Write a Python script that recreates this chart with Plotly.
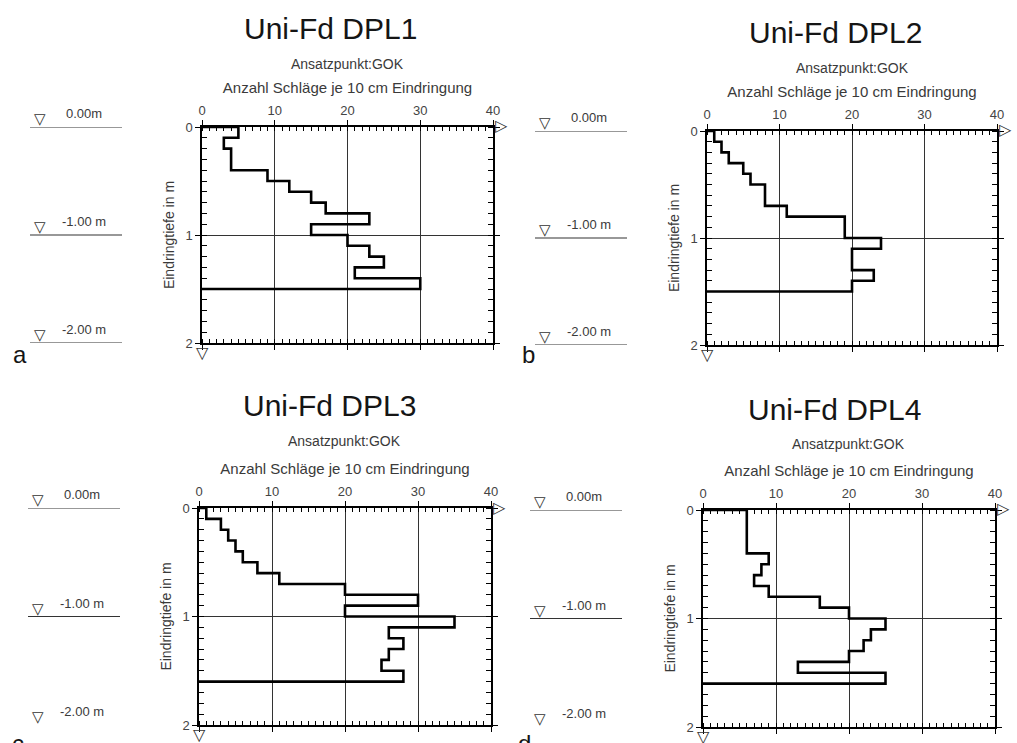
import plotly.graph_objects as go

W, H = 1017, 743

# ---------------- data ----------------
titles = ["Uni-Fd DPL1", "Uni-Fd DPL2", "Uni-Fd DPL3", "Uni-Fd DPL4"]
panel_letters = ["a", "b", "c", "d"]
subtitle = "Ansatzpunkt:GOK"
x_title = "Anzahl Schläge je 10 cm Eindringung"
y_title = "Eindringtiefe in m"
step_m = 0.1  # depth interval of each blow count

blows_dpl1 = [5, 3, 4, 4, 9, 12, 15, 17, 23, 15, 20, 23, 25, 21, 30]
blows_dpl2 = [1, 2, 3, 5, 6, 8, 8, 11, 19, 19, 24, 20, 20, 23, 20]
blows_dpl3 = [1, 3, 4, 5, 6, 8, 11, 20, 30, 20, 35, 26, 28, 26, 25, 28]
blows_dpl4 = [6, 6, 6, 6, 9, 8, 7, 9, 16, 20, 25, 23, 22, 20, 13, 25]
all_blows = [blows_dpl1, blows_dpl2, blows_dpl3, blows_dpl4]

level_values = [0, 1, 2]
level_labels = ["0.00m", "-1.00 m", "-2.00 m"]
level_lines = [[0, 1, 2], [0, 1, 2], [0, 1], [0, 1]]  # levels with a drawn line

x_ticks = [0, 10, 20, 30, 40]
y_ticks = [0, 1, 2]

# ---------------- layout geometry (pixels) ----------------
def px(x):
    return x / W

def py(y):
    return 1 - y / H

panels = [  # plot box: left, right, top, bottom
    (202, 493, 127, 343),
    (707, 997, 131, 345),
    (199, 491, 508, 725),
    (703, 995, 510, 727),
]
ruler_x = [(30, 122), (535, 627), (28, 120), (530, 622)]
title_pos = [(330, 29), (835, 32), (329, 406), (834, 409)]
sub_pos = [(347, 64), (852, 68), (344, 441), (848, 444)]
letter_pos = [(20, 354), (528, 354), (18, 744), (524, 744)]

fig = go.Figure()
anns = []
TXT = "#3a3a3a"
FONT = "Liberation Sans, Arial, sans-serif"
SYM = "DejaVu Sans"

for i in range(4):
    n = i + 1
    sfx = "" if n == 1 else str(n)
    xa, ya = "x" + sfx, "y" + sfx
    xr, yr = f"x{n + 4}", f"y{n + 4}"
    L, R, T, B = panels[i]
    vals = all_blows[i]

    # stepped blow-count profile
    xs, ys = [0], [0]
    for k, v in enumerate(vals):
        xs += [v, v]
        ys += [k * step_m, (k + 1) * step_m]
    end_depth = len(vals) * step_m
    xs.append(0)
    ys.append(end_depth)
    fig.add_trace(go.Scatter(x=xs, y=ys, mode="lines", xaxis=xa, yaxis=ya,
                             line=dict(color="black", width=2.6),
                             hoverinfo="skip", showlegend=False))

    # axis arrow heads (at the ends of the axes)
    anns.append(dict(x=40, y=0, xref=xa, yref=ya, text="▷", showarrow=False,
                     xanchor="left", yanchor="middle", xshift=0, yshift=1,
                     font=dict(size=16, color="#333", family=SYM)))
    anns.append(dict(x=0, y=2, xref=xa, yref=ya, text="▽", showarrow=False,
                     xanchor="center", yanchor="top", yshift=2,
                     font=dict(size=16, color="#333", family=SYM)))

    # elevation ruler on the left
    lx, ly = [], []
    for lv in level_lines[i]:
        lx += [0, 1, None]
        ly += [lv, lv, None]
    fig.add_trace(go.Scatter(x=lx, y=ly, mode="lines", xaxis=xr, yaxis=yr,
                             line=dict(color="#333", width=1.2),
                             cliponaxis=False, hoverinfo="skip", showlegend=False))
    for lv, lt in zip(level_values, level_labels):
        anns.append(dict(x=0.11, y=lv, xref=xr, yref=yr, text="▽", showarrow=False,
                         xanchor="center", yanchor="bottom", yshift=-3,
                         font=dict(size=15, color="#333", family=SYM)))
        anns.append(dict(x=0.33 if lt.startswith("-") else 0.37, y=lv,
                         xref=xr, yref=yr, text=lt, showarrow=False,
                         xanchor="left", yanchor="bottom", yshift=4,
                         font=dict(size=13, color=TXT, family=FONT)))

    # axes
    fig.layout["xaxis" + sfx] = dict(
        domain=[px(L), px(R)], anchor=ya, side="top", range=[0, 40],
        tickvals=x_ticks, ticks="outside", ticklen=5, tickcolor="black",
        minor=dict(dtick=1, ticks="inside", ticklen=4, tickcolor="black",
                   showgrid=False),
        showline=True, linecolor="black", linewidth=1.5, mirror="allticks",
        showgrid=True, gridcolor="#333", gridwidth=1, zeroline=False,
        automargin=False,
        tickfont=dict(size=13, color="#444", family=FONT),
        title=dict(text=x_title, standoff=6,
                   font=dict(size=15, color=TXT, family=FONT)),
    )
    fig.layout["yaxis" + sfx] = dict(
        domain=[py(B), py(T)], anchor=xa, range=[2, 0],
        tickvals=y_ticks, ticks="outside", ticklen=5, tickcolor="black",
        minor=dict(dtick=0.1, ticks="inside", ticklen=5, tickcolor="black",
                   showgrid=False),
        showline=True, linecolor="black", linewidth=1.5, mirror="allticks",
        showgrid=True, gridcolor="#333", gridwidth=1, zeroline=False,
        automargin=False,
        tickfont=dict(size=13, color="#444", family=FONT),
        title=dict(text=y_title, standoff=8,
                   font=dict(size=14, color=TXT, family=FONT)),
    )
    fig.layout[f"xaxis{n + 4}"] = dict(domain=[px(ruler_x[i][0]), px(ruler_x[i][1])],
                                       anchor=yr, range=[0, 1], visible=False,
                                       automargin=False)
    fig.layout[f"yaxis{n + 4}"] = dict(domain=[py(B), py(T)], anchor=xr,
                                       range=[2, 0], visible=False,
                                       automargin=False)

    tx, tyy = title_pos[i]
    anns.append(dict(x=px(tx), y=py(tyy), xref="paper", yref="paper",
                     text=titles[i], showarrow=False, xanchor="center",
                     yanchor="middle", font=dict(size=30, color="#151515", family=FONT)))
    sx, sy = sub_pos[i]
    anns.append(dict(x=px(sx), y=py(sy), xref="paper", yref="paper",
                     text=subtitle, showarrow=False, xanchor="center",
                     yanchor="middle", font=dict(size=14, color=TXT, family=FONT)))
    lx0, ly0 = letter_pos[i]
    anns.append(dict(x=px(lx0), y=py(ly0), xref="paper", yref="paper",
                     text=panel_letters[i], showarrow=False, xanchor="center",
                     yanchor="middle", font=dict(size=24, color="#151515", family=FONT)))

fig.update_layout(width=W, height=H, margin=dict(l=0, r=0, t=0, b=0, autoexpand=False),
                  paper_bgcolor="white", plot_bgcolor="white",
                  annotations=anns, showlegend=False)

fig.write_html("out.html", config={"displayModeBar": False},
               post_script="document.body.style.margin='0';")
